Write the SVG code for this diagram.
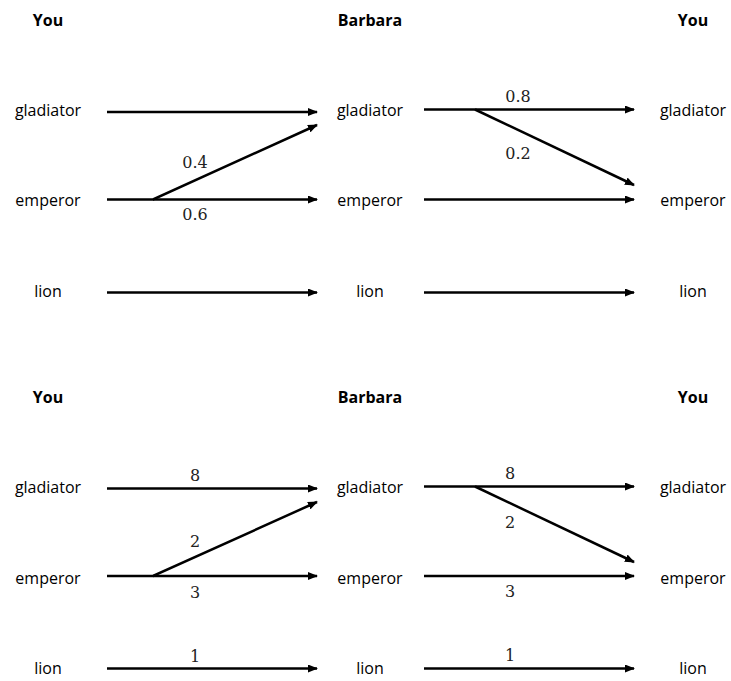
<svg xmlns="http://www.w3.org/2000/svg" width="731" height="681" viewBox="0 0 731 681">
<style>
.lbl{font-family:"Open Sans","Liberation Sans",sans-serif;font-size:16px;fill:#000;text-anchor:middle}
.hd{font-family:"Open Sans","Liberation Sans",sans-serif;font-size:16px;font-weight:bold;fill:#000;text-anchor:middle}
.num{font-family:"DejaVu Serif","Liberation Serif",serif;font-size:16px;fill:#222;text-anchor:middle}
.ar{stroke:#000;stroke-width:2.5;fill:none;marker-end:url(#ah)}
</style>
<defs>
<marker id="ah" viewBox="0 0 10 8" refX="9" refY="4" markerWidth="4" markerHeight="3.2" markerUnits="strokeWidth" orient="auto">
<path d="M0,0 L10,4 L0,8 z" fill="#000"/>
</marker>
</defs>
<rect width="731" height="681" fill="#fff"/>
<g id="top-you-left"><text class="hd" x="48" y="26">You</text></g>
<g id="top-barbara"><text class="hd" x="370" y="26">Barbara</text></g>
<g id="top-you-right"><text class="hd" x="693" y="26">You</text></g>
<g id="t-l-gladiator"><text class="lbl" x="48" y="116">gladiator</text></g>
<g id="t-l-emperor"><text class="lbl" x="48" y="206">emperor</text></g>
<g id="t-l-lion"><text class="lbl" x="48" y="297">lion</text></g>
<g id="t-m-gladiator"><text class="lbl" x="370" y="116">gladiator</text></g>
<g id="t-m-emperor"><text class="lbl" x="370" y="206">emperor</text></g>
<g id="t-m-lion"><text class="lbl" x="370" y="297">lion</text></g>
<g id="t-r-gladiator"><text class="lbl" x="693" y="116">gladiator</text></g>
<g id="t-r-emperor"><text class="lbl" x="693" y="206">emperor</text></g>
<g id="t-r-lion"><text class="lbl" x="693" y="297">lion</text></g>
<g id="bot-you-left"><text class="hd" x="48" y="403">You</text></g>
<g id="bot-barbara"><text class="hd" x="370" y="403">Barbara</text></g>
<g id="bot-you-right"><text class="hd" x="693" y="403">You</text></g>
<g id="b-l-gladiator"><text class="lbl" x="48" y="493">gladiator</text></g>
<g id="b-l-emperor"><text class="lbl" x="48" y="584">emperor</text></g>
<g id="b-l-lion"><text class="lbl" x="48" y="674">lion</text></g>
<g id="b-m-gladiator"><text class="lbl" x="370" y="493">gladiator</text></g>
<g id="b-m-emperor"><text class="lbl" x="370" y="584">emperor</text></g>
<g id="b-m-lion"><text class="lbl" x="370" y="674">lion</text></g>
<g id="b-r-gladiator"><text class="lbl" x="693" y="493">gladiator</text></g>
<g id="b-r-emperor"><text class="lbl" x="693" y="584">emperor</text></g>
<g id="b-r-lion"><text class="lbl" x="693" y="674">lion</text></g>
<g id="connectors">
<line class="ar" x1="107" y1="112" x2="317" y2="112"/>
<polyline class="ar" points="107,199.5 153,199.5 317,125"/>
<line class="ar" x1="153" y1="199.5" x2="317" y2="199.5"/>
<line class="ar" x1="107" y1="292.5" x2="317" y2="292.5"/>
<line class="ar" x1="424" y1="109.5" x2="634" y2="109.5"/>
<line class="ar" x1="475" y1="109.5" x2="634" y2="185"/>
<line class="ar" x1="424" y1="199.5" x2="634" y2="199.5"/>
<line class="ar" x1="424" y1="292.5" x2="634" y2="292.5"/>
<line class="ar" x1="107" y1="488.5" x2="317" y2="488.5"/>
<polyline class="ar" points="107,576 153,576 317,502"/>
<line class="ar" x1="153" y1="576" x2="317" y2="576"/>
<line class="ar" x1="107" y1="668.5" x2="317" y2="668.5"/>
<line class="ar" x1="424" y1="486.5" x2="634" y2="486.5"/>
<line class="ar" x1="475" y1="486.5" x2="634" y2="562"/>
<line class="ar" x1="424" y1="576" x2="634" y2="576"/>
<line class="ar" x1="424" y1="668.5" x2="634" y2="668.5"/>
<text class="num" x="195" y="168">0.4</text>
<text class="num" x="195" y="220">0.6</text>
<text class="num" x="518" y="102">0.8</text>
<text class="num" x="518" y="159">0.2</text>
<text class="num" x="195" y="481">8</text>
<text class="num" x="195" y="547">2</text>
<text class="num" x="195" y="598">3</text>
<text class="num" x="195" y="662">1</text>
<text class="num" x="510" y="479">8</text>
<text class="num" x="510" y="528">2</text>
<text class="num" x="510" y="597">3</text>
<text class="num" x="510" y="661">1</text>
</g>
</svg>
